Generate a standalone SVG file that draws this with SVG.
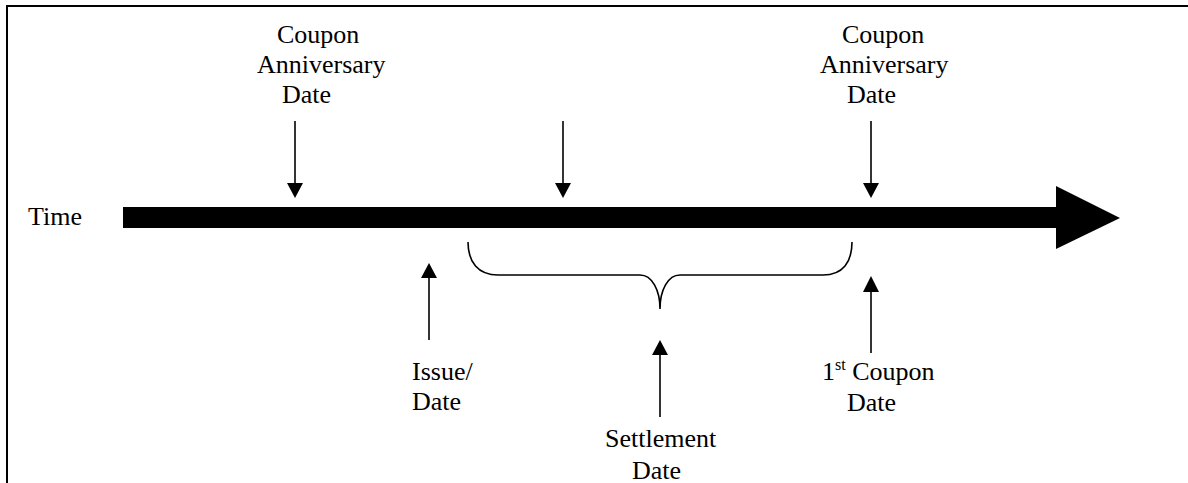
<svg xmlns="http://www.w3.org/2000/svg" width="1188" height="483" viewBox="0 0 1188 483">
<style>
text{font-family:"Liberation Serif","Times New Roman",serif;font-size:26px;fill:#000}
.ln{stroke:#000;stroke-width:1.6;fill:none}
.hd{fill:#000}
</style>
<rect width="1188" height="483" fill="#fff"/>
<rect x="7" y="6" width="1200" height="500" fill="none" stroke="#000" stroke-width="2"/>
<g id="timeline">
<rect x="123" y="207" width="934" height="21" fill="#000"/>
<polygon points="1056,186 1120,218 1056,249" fill="#000"/>
<text x="28" y="225">Time</text>
</g>
<g id="connectors">
<line class="ln" x1="295" y1="121" x2="295" y2="185"/>
<polygon class="hd" points="287,183 303,183 295,198"/>
<line class="ln" x1="563" y1="121" x2="563" y2="185"/>
<polygon class="hd" points="555,183 571,183 563,198"/>
<line class="ln" x1="871" y1="121" x2="871" y2="185"/>
<polygon class="hd" points="863,183 879,183 871,198"/>
<line class="ln" x1="429" y1="276" x2="429" y2="340"/>
<polygon class="hd" points="421,278 437,278 429,263"/>
<line class="ln" x1="660" y1="353" x2="660" y2="417"/>
<polygon class="hd" points="652,355 668,355 660,340"/>
<line class="ln" x1="871" y1="290" x2="871" y2="353"/>
<polygon class="hd" points="863,292 879,292 871,276"/>
<path class="ln" d="M468,242 C468,262 478,275 498,275 L640,275 C652,275 660,290 660,309 C660,290 668,275 680,275 L823,275 C843,275 852,262 852,242"/>
</g>
<g id="coupon-anniversary-1">
<text x="277" y="43">Coupon</text>
<text x="257" y="73">Anniversary</text>
<text x="282" y="103">Date</text>
</g>
<g id="coupon-anniversary-2">
<text x="842" y="43">Coupon</text>
<text x="820" y="73">Anniversary</text>
<text x="847" y="103">Date</text>
</g>
<g id="issue-date">
<text x="412" y="380">Issue/</text>
<text x="412" y="410">Date</text>
</g>
<g id="settlement-date">
<text x="605" y="447">Settlement</text>
<text x="632" y="479">Date</text>
</g>
<g id="first-coupon-date">
<text x="822" y="380">1<tspan font-size="16" dy="-10">st</tspan><tspan dy="10"> Coupon</tspan></text>
<text x="847" y="411">Date</text>
</g>
</svg>
